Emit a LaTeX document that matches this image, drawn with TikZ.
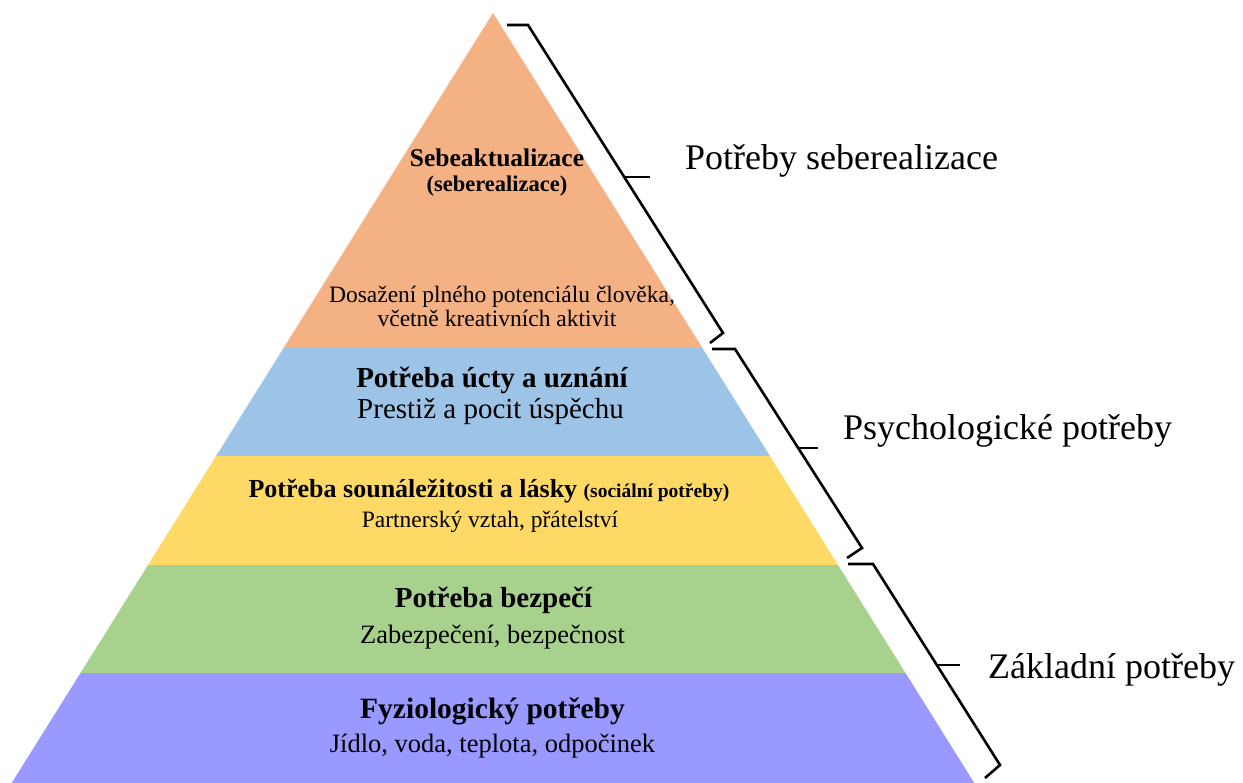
\documentclass[tikz,border=0pt]{standalone}
\usepackage{fontspec}
\setmainfont{Liberation Serif}
\definecolor{selfcol}{HTML}{F4B183}
\definecolor{esteemcol}{HTML}{9DC3E6}
\definecolor{lovecol}{HTML}{FFD966}
\definecolor{safecol}{HTML}{A9D18E}
\definecolor{physcol}{HTML}{9999FF}
\newcommand{\fs}[1]{\fontsize{#1}{#1}\selectfont}
\tikzset{
  txt/.style={anchor=base, inner sep=0pt},
  side/.style={anchor=base west, inner sep=0pt},
  brace/.style={line width=2.6pt, line join=miter}
}
\begin{document}
\begin{tikzpicture}[x=1pt,y=-1pt]\tikzstyle{every node} = [align=center]
    \useasboundingbox (0,0) rectangle (1243,783);

    % layers of the pyramid
    \fill[selfcol]   (493,13) -- (702.4,348) -- (283.6,348) -- cycle;
    \fill[esteemcol] (283.6,348) -- (702.4,348) -- (769.9,456) -- (216.1,456) -- cycle;
    \fill[lovecol]   (216.1,456) -- (769.9,456) -- (838,565) -- (148,565) -- cycle;
    \fill[safecol]   (148,565) -- (838,565) -- (905.5,673) -- (80.5,673) -- cycle;
    \fill[physcol]   (80.5,673) -- (905.5,673) -- (974.3,783) -- (11.7,783) -- cycle;

    % texts in the layers
    \node[txt] (self)    at (497,167) {\fs{25.5}\bfseries Sebeaktualizace};
    \node[txt] (selfb)   at (497,192) {\fs{22.5}\bfseries (seberealizace)};
    \node[txt] (selfc)   at (502,303) {\fs{23.5}Dosažení plného potenciálu člověka,};
    \node[txt] (selfd)   at (497,327) {\fs{23.5}včetně kreativních aktivit};

    \node[txt] (esteem)  at (492,388) {\fs{29}\bfseries Potřeba úcty a uznání};
    \node[txt] (esteemb) at (490.5,419) {\fs{29}Prestiž a pocit úspěchu};

    \node[txt] (love)    at (489,497) {\fs{26}\bfseries Potřeba sounáležitosti a lásky {\fs{19.5}(sociální potřeby)}};
    \node[txt] (loveb)   at (490,527) {\fs{23.5}Partnerský vztah, přátelství};

    \node[txt] (safe)    at (493.5,607) {\fs{29}\bfseries Potřeba bezpečí};
    \node[txt] (safeb)   at (492.5,643) {\fs{26.5}Zabezpečení, bezpečnost};

    \node[txt] (phys)    at (492.5,718) {\fs{29.5}\bfseries Fyziologický potřeby};
    \node[txt] (physb)   at (492.5,752) {\fs{26.5}Jídlo, voda, teplota, odpočinek};

    % brackets and their labels
    \draw[brace] (507,25) -- (528,25) -- (723,333) -- (710,343);
    \draw[brace] (712,349) -- (735,349) -- (862,548) -- (847,558);
    \draw[brace] (848,564) -- (873,564) -- (1000,765) -- (985,778);

    \coordinate (tick1) at (625,177);
    \coordinate (tick2) at (798,448);
    \coordinate (tick3) at (937,665);
    \draw[brace] (tick1) -- ++(25,0);
    \draw[brace] (tick2) -- ++(20,0);
    \draw[brace] (tick3) -- ++(23,0);

    \node[side] (top)  at (685,170) {\fs{36}Potřeby seberealizace};
    \node[side] (mid)  at (843,440) {\fs{36}Psychologické potřeby};
    \node[side] (base) at (988,678) {\fs{36}Základní potřeby};
  \end{tikzpicture}
\end{document}
